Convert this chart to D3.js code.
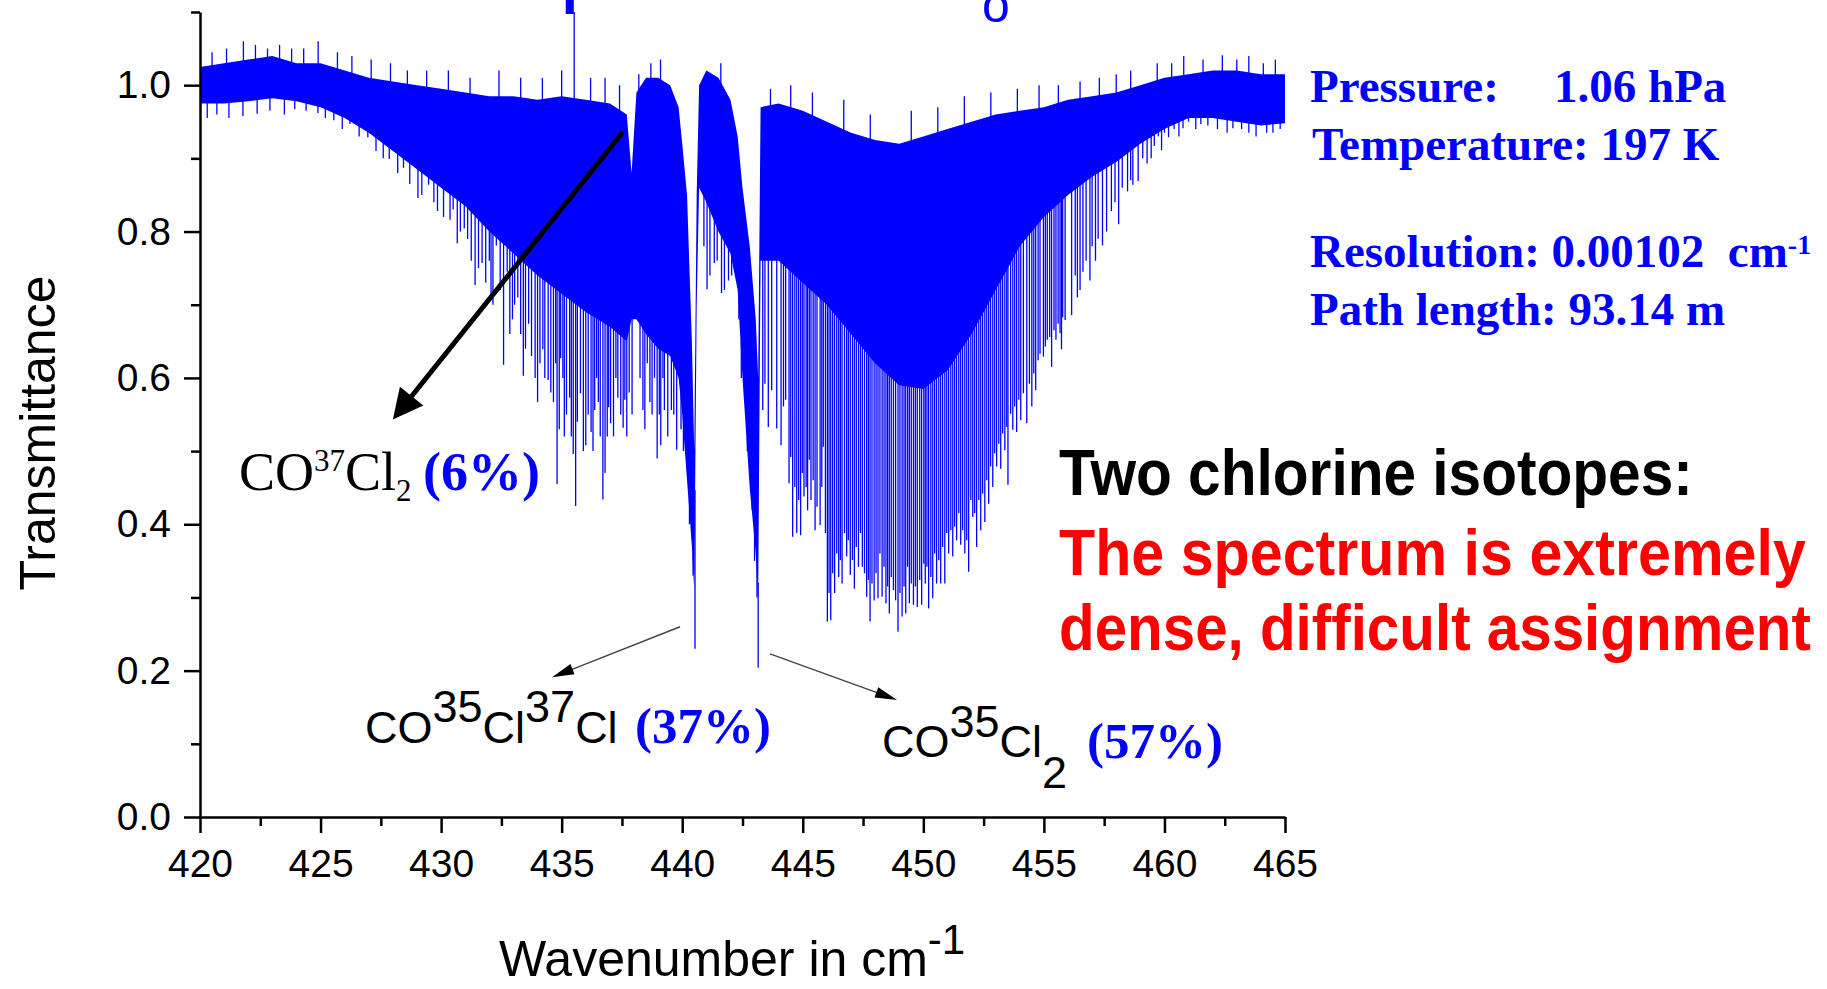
<!DOCTYPE html>
<html>
<head>
<meta charset="utf-8">
<script src="https://cdn.jsdelivr.net/npm/d3@7"></script>
<style>
  body { margin: 0; background: #fff; }
  svg { display: block; }
  text { white-space: pre; }
</style>
</head>
<body>
<svg id="chart" width="1827" height="989"></svg>
<script>
// envelope of the dense line forest (wavenumber in cm-1, transmittance)
const wavenumbers = [420, 421, 422, 423, 424, 425, 426, 427, 428, 429, 430, 431, 432, 433, 434, 435, 436, 437,
    437.7, 437.9, 438.1, 438.5, 439, 439.5, 439.85, 440.0, 440.2, 440.4, 440.5, 440.6, 440.7, 441, 441.5, 442,
    442.3, 442.5, 442.8, 443.05, 443.15, 443.25, 444, 445, 446, 447, 448, 449, 450, 451, 452, 453, 454, 455,
    456, 457, 458, 459, 460, 461, 462, 463, 464, 465];
const bandTop = [1.025, 1.03, 1.035, 1.04, 1.03, 1.03, 1.02, 1.01, 1.005, 1.0, 0.995, 0.99, 0.985, 0.985, 0.98, 0.985, 0.98, 0.975,
    0.96, 0.88, 0.99, 1.01, 1.01, 1.0, 0.97, 0.92, 0.85, 0.65, 0.5, 0.85, 1.0, 1.02, 1.01, 0.98,
    0.93, 0.86, 0.78, 0.68, 0.6, 0.97, 0.975, 0.965, 0.95, 0.935, 0.925, 0.92, 0.93, 0.94, 0.95, 0.96, 0.965, 0.97,
    0.98, 0.985, 0.99, 1.0, 1.01, 1.015, 1.02, 1.02, 1.015, 1.015];
const bandBottom = [0.975, 0.975, 0.978, 0.982, 0.978, 0.97, 0.955, 0.935, 0.91, 0.885, 0.86, 0.835, 0.8, 0.77, 0.74, 0.715, 0.69, 0.67,
    0.65, 0.68, 0.68, 0.66, 0.64, 0.63, 0.6, 0.55, 0.46, 0.37, 0.31, 0.7, 0.86, 0.84, 0.8, 0.77,
    0.72, 0.6, 0.45, 0.36, 0.3, 0.76, 0.76, 0.73, 0.7, 0.66, 0.62, 0.59, 0.585, 0.61, 0.66, 0.72, 0.78, 0.82,
    0.85, 0.875, 0.895, 0.92, 0.94, 0.955, 0.955, 0.95, 0.945, 0.948];

// single absorption lines reaching below the dense band: [wavenumber, minimum transmittance]
const absorptionLines = [
    [420.3, 0.955], [420.7, 0.96], [421.2, 0.955], [421.78, 0.958], [422.37, 0.961], [422.9, 0.965],
    [423.5, 0.96], [423.93, 0.967], [424.4, 0.965], [424.89, 0.962], [425.2, 0.955], [425.55, 0.952],
    [425.9, 0.94], [426.22, 0.947], [426.6, 0.93], [426.96, 0.929], [427.3, 0.91], [427.6, 0.9],
    [427.85, 0.899], [428.2, 0.88], [428.44, 0.887], [428.7, 0.865], [429.04, 0.846], [429.2, 0.85],
    [429.48, 0.864], [429.7, 0.84], [429.85, 0.828], [430.1, 0.82],
    [430.37, 0.816], [430.5, 0.83], [430.67, 0.784], [430.8, 0.8], [430.96, 0.804], [431.1, 0.79],
    [431.25, 0.76], [431.41, 0.727], [431.55, 0.75], [431.70, 0.757], [431.85, 0.73], [432.0, 0.76],
    [432.07, 0.710], [432.15, 0.70], [432.29, 0.781], [432.45, 0.72], [432.59, 0.618], [432.74, 0.745],
    [432.85, 0.66], [432.96, 0.680], [433.05, 0.70], [433.18, 0.710], [433.3, 0.66], [433.41, 0.603],
    [433.5, 0.64], [433.63, 0.674], [433.75, 0.63], [433.9, 0.6], [434.00, 0.567], [434.1, 0.62],
    [434.22, 0.639], [434.3, 0.6], [434.44, 0.597], [434.55, 0.58], [434.66, 0.567], [434.75, 0.62],
    [434.81, 0.455], [434.9, 0.53], [434.96, 0.627], [435.05, 0.6], [435.11, 0.520], [435.2, 0.55],
    [435.33, 0.573], [435.4, 0.52], [435.48, 0.496], [435.58, 0.425], [435.65, 0.54], [435.78, 0.579],
    [435.9, 0.5], [436.00, 0.508], [436.1, 0.55], [436.22, 0.526], [436.3, 0.5], [436.37, 0.556],
    [436.45, 0.6], [436.52, 0.567], [436.6, 0.52], [436.71, 0.434], [436.8, 0.47], [436.89, 0.520],
    [436.95, 0.56], [437.03, 0.538], [437.15, 0.52], [437.25, 0.6], [437.33, 0.573], [437.45, 0.55],
    [437.55, 0.532], [437.62, 0.57], [437.70, 0.520], [437.8, 0.58], [437.92, 0.550], [438.25, 0.6],
    [438.37, 0.556], [438.45, 0.53], [438.55, 0.62], [438.66, 0.567], [438.75, 0.55], [438.85, 0.6],
    [438.96, 0.490], [439.05, 0.55], [439.11, 0.508], [439.2, 0.6], [439.26, 0.556], [439.4, 0.52],
    [439.55, 0.556], [439.65, 0.55], [439.77, 0.502], [439.95, 0.53], [440.05, 0.5], [440.15, 0.508],
    [440.3, 0.4], [440.45, 0.33], [440.53, 0.230],
    [440.9, 0.78], [441.03, 0.721], [441.15, 0.74], [441.33, 0.757], [441.45, 0.76], [441.63, 0.716],
    [441.75, 0.72], [441.92, 0.733], [442.05, 0.74], [442.22, 0.757], [442.35, 0.68], [442.45, 0.6],
    [442.59, 0.615], [442.7, 0.5], [442.9, 0.42], [443.0, 0.35], [443.1, 0.3], [443.15, 0.204],
    [443.34, 0.556], [443.43, 0.592], [443.57, 0.533], [443.71, 0.583], [443.92, 0.531], [444.10, 0.508],
    [444.20, 0.561], [444.29, 0.570], [444.43, 0.456], [444.50, 0.492], [444.58, 0.383], [444.67, 0.451],
    [444.75, 0.388], [444.83, 0.433], [444.91, 0.385], [444.98, 0.470], [445.05, 0.438], [445.14, 0.451],
    [445.20, 0.419], [445.27, 0.488], [445.34, 0.433], [445.43, 0.460], [445.51, 0.392], [445.59, 0.424],
    [445.72, 0.399], [445.79, 0.451], [445.85, 0.506], [445.94, 0.388], [446.02, 0.267], [446.09, 0.306],
    [446.16, 0.269], [446.24, 0.333], [446.32, 0.306], [446.41, 0.360], [446.49, 0.328], [446.56, 0.351],
    [446.63, 0.319], [446.73, 0.388], [446.82, 0.356], [446.89, 0.378], [446.97, 0.331], [447.06, 0.351],
    [447.14, 0.312], [447.22, 0.369], [447.31, 0.342], [447.39, 0.388], [447.47, 0.342], [447.56, 0.333],
    [447.65, 0.301], [447.72, 0.324], [447.79, 0.267], [447.87, 0.319], [447.96, 0.296], [448.04, 0.333],
    [448.12, 0.299], [448.20, 0.360], [448.29, 0.301], [448.37, 0.342], [448.45, 0.292], [448.52, 0.315],
    [448.59, 0.278], [448.67, 0.328], [448.76, 0.310], [448.85, 0.296], [448.95, 0.253], [449.03, 0.306],
    [449.12, 0.274], [449.20, 0.315], [449.27, 0.278], [449.35, 0.342], [449.42, 0.292], [449.50, 0.319],
    [449.59, 0.290], [449.67, 0.315], [449.75, 0.287], [449.85, 0.324], [449.93, 0.290], [450.02, 0.346],
    [450.08, 0.319], [450.15, 0.342], [450.22, 0.285], [450.31, 0.328], [450.39, 0.299], [450.47, 0.360],
    [450.55, 0.319], [450.64, 0.351], [450.72, 0.319], [450.80, 0.369], [450.89, 0.319], [450.97, 0.388],
    [451.05, 0.360], [451.14, 0.392], [451.22, 0.356], [451.30, 0.397], [451.38, 0.378], [451.47, 0.415],
    [451.55, 0.372], [451.63, 0.392], [451.72, 0.360], [451.80, 0.378], [451.88, 0.335], [451.97, 0.433],
    [452.05, 0.410], [452.13, 0.415], [452.21, 0.369], [452.30, 0.433], [452.38, 0.392], [452.46, 0.442],
    [452.55, 0.403], [452.63, 0.460], [452.71, 0.428], [452.79, 0.479], [452.88, 0.451], [452.96, 0.497],
    [453.04, 0.479], [453.13, 0.510], [453.21, 0.476], [453.29, 0.524], [453.38, 0.501], [453.46, 0.533],
    [453.51, 0.454], [453.62, 0.551], [453.71, 0.529], [453.79, 0.561], [453.87, 0.526], [453.96, 0.570],
    [454.04, 0.542], [454.15, 0.579], [454.29, 0.538], [454.40, 0.592], [454.50, 0.561], [454.58, 0.606],
    [454.66, 0.583], [454.76, 0.624], [454.84, 0.633], [454.98, 0.629], [455.06, 0.643], [455.14, 0.652],
    [455.24, 0.656], [455.32, 0.615], [455.42, 0.665], [455.50, 0.652], [455.59, 0.674], [455.67, 0.661],
    [455.73, 0.639], [455.78, 0.683], [455.88, 0.679], [456.15, 0.686], [456.3, 0.74], [456.39, 0.710],
    [456.5, 0.72], [456.62, 0.745], [456.75, 0.76], [456.91, 0.733], [457.0, 0.78], [457.14, 0.760],
    [457.25, 0.79], [457.43, 0.781], [457.6, 0.8], [457.80, 0.828], [457.95, 0.84], [458.10, 0.810],
    [458.25, 0.86], [458.47, 0.855], [458.6, 0.87], [458.69, 0.864], [458.91, 0.869], [459.1, 0.9],
    [459.28, 0.893], [459.45, 0.9], [459.58, 0.917], [459.75, 0.93], [459.88, 0.911], [460.0, 0.935],
    [460.17, 0.929], [460.4, 0.94], [460.6, 0.93], [460.77, 0.941], [461.0, 0.95], [461.3, 0.94],
    [461.51, 0.947], [461.8, 0.945], [462.2, 0.94], [462.6, 0.935], [462.84, 0.941], [463.2, 0.94],
    [463.5, 0.935], [463.8, 0.93], [464.24, 0.935], [464.5, 0.935], [464.8, 0.94]
];
// lines sticking up above the noise
const upSpikes = [[420.5, 1.045], [421.1, 1.05], [421.8, 1.06], [422.3, 1.055], [422.8, 1.05], [423.3, 1.055],
    [423.8, 1.05], [424.3, 1.05], [424.9, 1.06], [425.7, 1.045], [426.3, 1.04], [427.1, 1.035], [427.9, 1.03],
    [428.6, 1.02], [429.4, 1.02], [430.3, 1.02], [431.2, 1.01], [432.4, 1.02], [433.3, 1.01], [434.2, 1.01],
    [435.0, 1.02], [435.52, 1.1], [436.2, 1.01], [436.8, 1.01], [437.4, 1.0], [438.2, 1.015], [438.7, 1.03],
    [439.1, 1.035], [441.2, 1.01], [441.6, 1.03], [443.66, 0.995], [444.5, 1.0], [445.4, 0.99], [446.7, 0.98],
    [447.8, 0.96], [449.5, 0.965], [450.6, 0.97], [451.7, 0.985], [452.8, 0.99], [453.9, 0.995], [454.8, 1.0],
    [455.6, 1.0], [456.5, 1.005], [457.3, 1.01], [458.0, 1.015], [458.6, 1.02], [459.7, 1.03], [460.3, 1.03],
    [460.8, 1.04], [461.6, 1.035], [462.4, 1.041], [463.0, 1.035], [463.5, 1.04], [464.1, 1.03], [464.6, 1.035]];

const xTicks = [420, 425, 430, 435, 440, 445, 450, 455, 460, 465];
const xMinor = [422.5, 427.5, 432.5, 437.5, 442.5, 447.5, 452.5, 457.5, 462.5];
const yTicks = [0, 0.2, 0.4, 0.6, 0.8, 1.0];
const yMinor = [0.1, 0.3, 0.5, 0.7, 0.9, 1.1];

const svg = d3.select("#chart");
const blue = "#0000ff";

const x = d3.scaleLinear().domain([420, 465]).range([200, 1285]);
const y = d3.scaleLinear().domain([0, 1.1]).range([817, 12]);

// dense band
const band = wavenumbers.map((w, i) => ({w: w, top: bandTop[i], bot: bandBottom[i]}));
svg.append("path")
    .datum(band)
    .attr("fill", blue)
    .attr("d", d3.area().x(d => x(d.w)).y0(d => y(d.bot)).y1(d => y(d.top)));

const bottomAt = d3.scaleLinear().domain(wavenumbers).range(bandBottom);
const topAt = d3.scaleLinear().domain(wavenumbers).range(bandTop);

svg.append("g")
    .attr("stroke", blue)
    .attr("stroke-width", 1.3)
    .selectAll("line")
    .data(absorptionLines)
    .join("line")
    .attr("x1", d => x(d[0])).attr("x2", d => x(d[0]))
    .attr("y1", d => y(bottomAt(d[0]) + 0.02))
    .attr("y2", d => y(d[1]));

svg.append("g")
    .attr("stroke", blue)
    .attr("stroke-width", 1.3)
    .selectAll("line")
    .data(upSpikes)
    .join("line")
    .attr("x1", d => x(d[0])).attr("x2", d => x(d[0]))
    .attr("y1", d => y(topAt(d[0]) - 0.02))
    .attr("y2", d => y(d[1]));

// axes
const tickFont = g => g.selectAll("text")
    .attr("font-family", "'Liberation Sans', Arial, sans-serif")
    .attr("font-size", 39)
    .attr("fill", "#000");

svg.append("g")
    .attr("transform", "translate(0," + y(0) + ")")
    .call(d3.axisBottom(x).tickValues(xTicks).tickFormat(d3.format("d")).tickSize(16).tickSizeOuter(0).tickPadding(16))
    .call(tickFont);
svg.append("g")
    .attr("transform", "translate(0," + y(0) + ")")
    .call(d3.axisBottom(x).tickValues(xMinor).tickFormat("").tickSize(9).tickSizeOuter(0))
    .call(g => g.select(".domain").remove());

svg.append("g")
    .attr("transform", "translate(" + x(420) + ",0)")
    .call(d3.axisLeft(y).tickValues(yTicks).tickFormat(d3.format(".1f")).tickSize(16).tickSizeOuter(0).tickPadding(13))
    .call(tickFont);
svg.append("g")
    .attr("transform", "translate(" + x(420) + ",0)")
    .call(d3.axisLeft(y).tickValues(yMinor).tickFormat("").tickSize(9).tickSizeOuter(0))
    .call(g => g.select(".domain").remove());

svg.selectAll(".domain, .tick line").attr("stroke", "#000").attr("stroke-width", 2.5);

// axis titles
svg.append("text")
    .attr("transform", "translate(55,433) rotate(-90)")
    .attr("text-anchor", "middle")
    .attr("font-family", "'Liberation Sans', Arial, sans-serif")
    .attr("font-size", 50)
    .text("Transmittance");

const xt = svg.append("text")
    .attr("x", 499).attr("y", 976)
    .attr("font-family", "'Liberation Sans', Arial, sans-serif")
    .attr("font-size", 50);
xt.append("tspan").text("Wavenumber in cm");
xt.append("tspan").attr("font-size", 42).attr("dy", -22).text("-1");

// arrows
function arrow(x1, y1, x2, y2, width, headLen, headW, lineColor) {
    const dx = x2 - x1, dy = y2 - y1, len = Math.hypot(dx, dy);
    const ux = dx / len, uy = dy / len;
    const bx = x2 - ux * headLen, by = y2 - uy * headLen;
    svg.append("line")
        .attr("x1", x1).attr("y1", y1)
        .attr("x2", x2 - ux * headLen * 0.7).attr("y2", y2 - uy * headLen * 0.7)
        .attr("stroke", lineColor).attr("stroke-width", width);
    svg.append("path")
        .attr("d", d3.line()([[x2, y2], [bx - uy * headW / 2, by + ux * headW / 2], [bx + uy * headW / 2, by - ux * headW / 2]]) + "Z")
        .attr("fill", "#000");
}
arrow(x(437.54), y(0.936), x(428.0), y(0.543), 5, 30, 30, "#000");
arrow(x(439.91), y(0.26), x(434.6), y(0.191), 1.4, 22, 11, "#444");
arrow(x(443.64), y(0.223), x(448.91), y(0.160), 1.4, 22, 11, "#444");

// isotopologue labels
const serif = "'Liberation Serif', 'Times New Roman', serif";
const sans = "'Liberation Sans', Arial, sans-serif";

const l1 = svg.append("text").attr("x", 239).attr("y", 490).attr("font-family", serif).attr("font-size", 54);
l1.append("tspan").text("CO");
l1.append("tspan").attr("font-size", 31).attr("dy", -19).text("37");
l1.append("tspan").attr("dy", 19).text("Cl");
l1.append("tspan").attr("font-size", 31).attr("dy", 11).text("2");
l1.append("tspan").attr("x", 423).attr("y", 490).attr("fill", blue).attr("font-weight", "bold").text("(6%)");

const l2 = svg.append("text").attr("x", 365).attr("y", 743).attr("font-family", sans).attr("font-size", 45);
l2.append("tspan").text("CO");
l2.append("tspan").attr("dy", -21).text("35");
l2.append("tspan").attr("dy", 21).text("Cl");
l2.append("tspan").attr("dy", -21).text("37");
l2.append("tspan").attr("dy", 21).text("Cl");
l2.append("tspan").attr("x", 635).attr("y", 743).attr("font-family", serif).attr("font-size", 51)
    .attr("fill", blue).attr("font-weight", "bold").text("(37%)");

const l3 = svg.append("text").attr("x", 882).attr("y", 757).attr("font-family", sans).attr("font-size", 45);
l3.append("tspan").text("CO");
l3.append("tspan").attr("dy", -20).text("35");
l3.append("tspan").attr("dy", 20).text("Cl");
l3.append("tspan").attr("dy", 31).text("2");
l3.append("tspan").attr("x", 1087).attr("y", 758).attr("font-family", serif).attr("font-size", 51)
    .attr("fill", blue).attr("font-weight", "bold").text("(57%)");

// measurement conditions
const info = svg.append("g").attr("font-family", serif).attr("font-size", 47)
    .attr("font-weight", "bold").attr("fill", blue);
info.append("text").attr("x", 1310).attr("y", 102).text("Pressure:");
info.append("text").attr("x", 1554).attr("y", 102).text("1.06 hPa");
info.append("text").attr("x", 1312).attr("y", 160).text("Temperature: 197 K");
const res = info.append("text").attr("x", 1310).attr("y", 267);
res.append("tspan").text("Resolution: 0.00102  cm");
res.append("tspan").attr("font-size", 28).attr("dy", -13).text("-1");
info.append("text").attr("x", 1310).attr("y", 325).text("Path length: 93.14 m");

// remark, condensed to the width it has in the original
const remarkLines = [
    {text: "Two chlorine isotopes:", color: "#000", y: 495, width: 634},
    {text: "The spectrum is extremely", color: "#ff0000", y: 575, width: 747},
    {text: "dense, difficult assignment", color: "#ff0000", y: 650, width: 752}
];
remarkLines.forEach(r => {
    const t = svg.append("text")
        .attr("x", 0).attr("y", 0)
        .attr("font-family", sans).attr("font-weight", "bold").attr("font-size", 65)
        .attr("fill", r.color).text(r.text);
    const natural = t.node().getComputedTextLength();
    t.attr("transform", "translate(1059," + r.y + ") scale(" + (r.width / natural) + ",1)");
});

// clipped text fragments at the top edge (cut off in the original too)
svg.append("text").attr("x", 562).attr("y", 14).attr("font-family", sans).attr("font-weight", "bold")
    .attr("font-size", 56).attr("fill", blue).text("I");
svg.append("text").attr("x", 982).attr("y", 22).attr("font-family", sans)
    .attr("font-size", 50).attr("fill", blue).text("o");
</script>
</body>
</html>
